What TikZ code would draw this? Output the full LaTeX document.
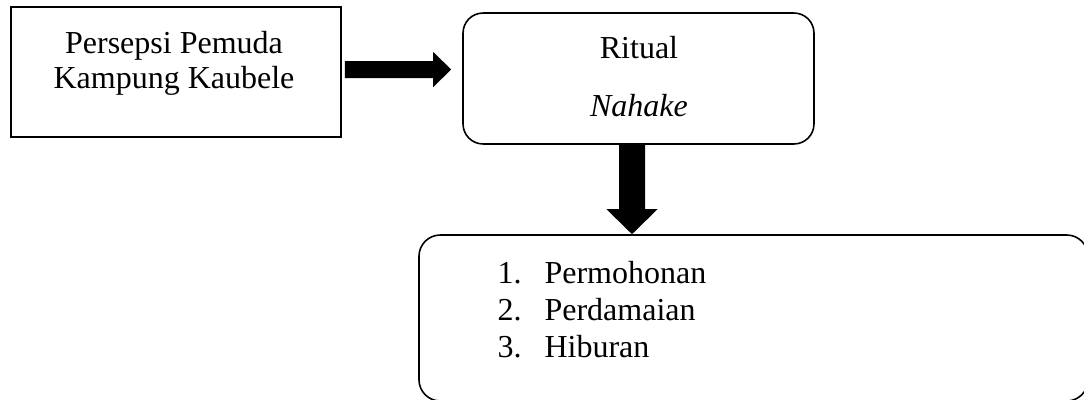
\documentclass[tikz,border=0pt]{standalone}
\usepackage{fontspec}
\setmainfont{Liberation Serif}
\usetikzlibrary{calc}

\begin{document}
\begin{tikzpicture}[x=0.375pt,y=0.375pt,
  kotak/.style={draw, line width=0.6pt},
  teks/.style={inner sep=0pt, font=\fontsize{12pt}{14pt}\selectfont}]
\useasboundingbox (0,0) rectangle (1084,399);

\node[kotak, minimum width=123.75pt, minimum height=48.75pt] (persepsi) at (176,327) {};
\node[kotak, rounded corners=7.5pt, minimum width=131.6pt, minimum height=49.1pt] (ritual) at (638.5,320.5) {};
\node[kotak, rounded corners=8pt, minimum width=250.9pt, minimum height=62.25pt] (hasil) at (753.5,81) {};

\node[teks, anchor=base] (persepsi1) at (174,346) {Persepsi Pemuda};
\node[teks, anchor=base] (persepsi2) at (174,311) {Kampung Kaubele};
\node[teks, anchor=base] (ritual1) at (639,341) {Ritual};
\node[teks, anchor=base] (ritual2) at (639,283) {\itshape Nahake};

\node[teks, anchor=base west] (no1) at (497,116) {1.};
\node[teks, anchor=base west] (no2) at (497,79) {2.};
\node[teks, anchor=base west] (no3) at (497,42) {3.};
\node[teks, anchor=base west] (hasil1) at (544,116) {Permohonan};
\node[teks, anchor=base west] (hasil2) at (544,79) {Perdamaian};
\node[teks, anchor=base west] (hasil3) at (544,42) {Hiburan};

% panah blok
\coordinate (a1) at ($(persepsi.east)+(3,2.5)$);
\coordinate (a1x) at ($(ritual.west)+(-11,0)$);
\coordinate (a1tip) at (a1x |- a1);
\fill ($(a1)+(0,8.5)$) -| ($(a1tip)+(-18,17.5)$) -- (a1tip)
  -- ($(a1tip)+(-18,-17.5)$) |- ($(a1)+(0,-8.5)$) -- cycle;

\coordinate (a2) at ($(ritual.south)+(-6.5,0)$);
\coordinate (a2tip) at (a2 |- hasil.north);
\fill ($(a2)+(-13,0)$) |- ($(a2tip)+(-25.5,25)$) -- (a2tip)
  -- ($(a2tip)+(25.5,25)$) -| ($(a2)+(13,0)$) -- cycle;
\end{tikzpicture}
\end{document}
